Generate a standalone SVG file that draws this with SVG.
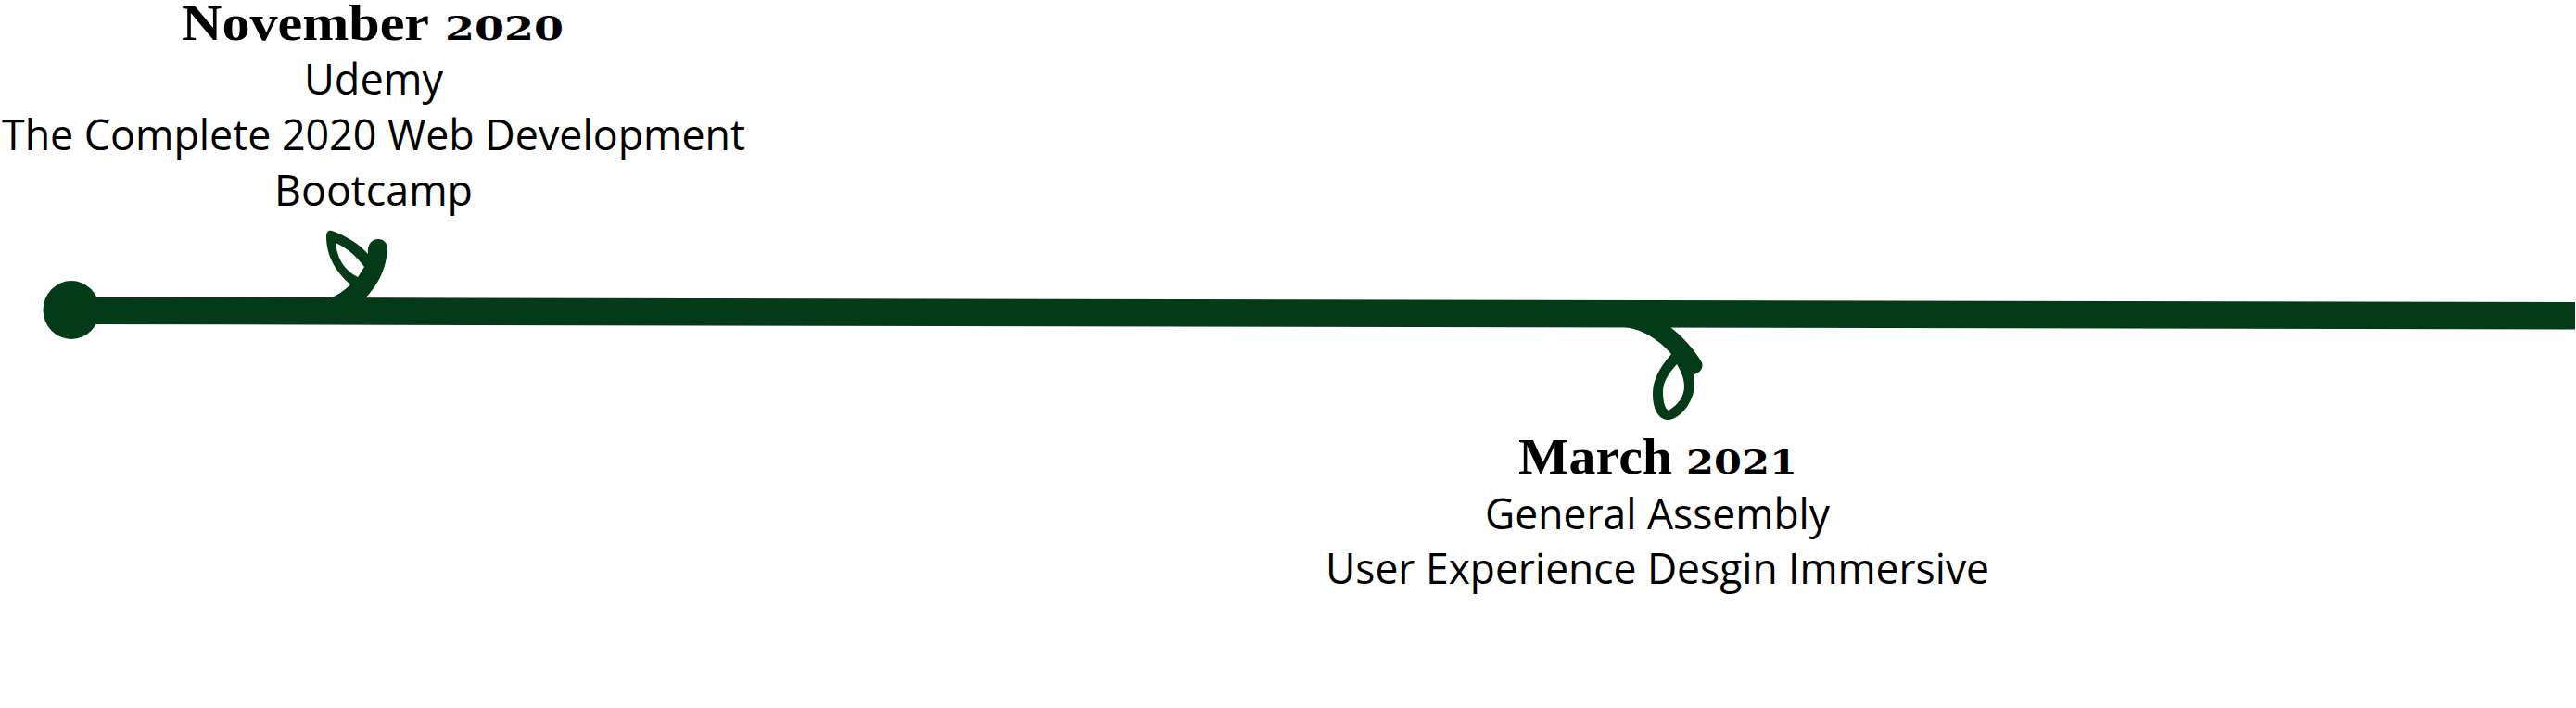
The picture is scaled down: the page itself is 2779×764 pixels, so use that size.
<svg xmlns="http://www.w3.org/2000/svg" width="2779" height="764" viewBox="0 0 2779 764">
<style>
.shape{fill:#033a18;fill-rule:evenodd}
text{fill:#000;text-anchor:start}
.date{font-family:"Liberation Serif",serif;font-weight:700;font-size:54px}
.num{font-family:"DejaVu Serif",serif;font-weight:700;font-size:36px}
.body{font-family:"Open Sans",sans-serif;font-size:46px}
</style>
<rect width="2779" height="764" fill="#fff"/>
<g id="connectors">
<path id="timeline" class="shape" d="M77 320.5L2778 326V355.5L77 350Z"/>
<path id="sprout-1" class="shape" d="M355 322C364 319 372 313 378 307C363 294 352 277 352 255C352 251 354 248 358 249C375 255 388 264 397 274C396 265 400 258 408 258C415 258 419 264 418 271C416 291 408 307 394 322ZM362 262C364 277 369 290 386 299L393 288C384 276 375 268 362 262Z"/>
<path id="sprout-2" class="shape" d="M1753 353C1775 356 1790 368 1803 382C1790 397 1783 410 1783 425C1783 443 1790 453 1800 453C1816 451 1828 430 1828 415C1828 410 1827 407 1827 404C1834 403 1838 397 1836 391C1827 376 1815 363 1802 353ZM1809 393C1800 403 1794 412 1794 423C1794 433 1796 441 1800 443C1810 437 1817 428 1817 417C1817 408 1813 400 1809 393Z"/>
</g>
<ellipse id="start-dot" class="shape" cx="77" cy="334.5" rx="30.5" ry="31.5"/>
<g id="node-november-2020">
<text class="date" x="196" y="43" textLength="267" lengthAdjust="spacingAndGlyphs">November</text>
<text class="date num" x="480" y="43" textLength="128" lengthAdjust="spacingAndGlyphs">2020</text>
<text class="body" x="328" y="102" textLength="150" lengthAdjust="spacingAndGlyphs">Udemy</text>
<text class="body" x="2" y="162" textLength="802" lengthAdjust="spacingAndGlyphs">The Complete 2020 Web Development</text>
<text class="body" x="296" y="222" textLength="214" lengthAdjust="spacingAndGlyphs">Bootcamp</text>
</g>
<g id="node-march-2021">
<text class="date" x="1638" y="511" textLength="166" lengthAdjust="spacingAndGlyphs">March</text>
<text class="date num" x="1819" y="511" textLength="120" lengthAdjust="spacingAndGlyphs">2021</text>
<text class="body" x="1602" y="571" textLength="372" lengthAdjust="spacingAndGlyphs">General Assembly</text>
<text class="body" x="1430" y="630" textLength="716" lengthAdjust="spacingAndGlyphs">User Experience Desgin Immersive</text>
</g>
</svg>
